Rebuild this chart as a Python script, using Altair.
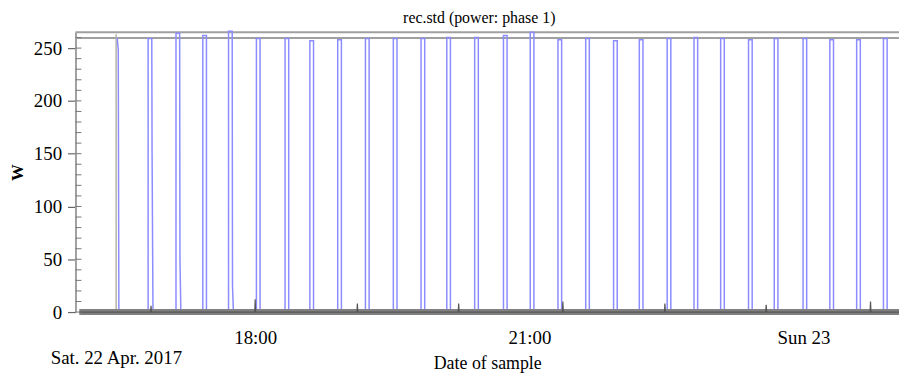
import altair as alt
import pandas as pd

title_text = "rec.std (power: phase 1)"
x_title = "Date of sample"
y_title = "W"
date_label = "Sat. 22 Apr. 2017"
tick_labels = ["18:00", "21:00", "Sun 23"]

# minutes relative to Sat 22 Apr 2017 18:00
domain_min = [-118.0, 422.7]
pulse_mid = [-69.1, -50.8, -33.2, -16.3, 2.0, 20.8, 37.1, 55.4, 73.6, 91.9,
             110.1, 127.0, 145.3, 164.2, 181.8, 200.0, 218.2, 236.5, 253.4,
             271.7, 289.3, 306.8, 325.1, 342.0, 360.9, 378.5, 396.1, 413.7]
pulse_top = [259, 264, 262, 266, 259, 259, 257, 258, 259, 259,
             259, 260, 260, 262, 265, 258, 259, 257, 258,
             259, 260, 259, 258, 259, 259, 258, 258, 259]
pulse_step = [150, 50, 0, 25, 0, 0, 0, 0, 0, 0,
              0, 0, 0, 0, 0, 0, 0, 0, 0,
              0, 0, 0, 0, 0, 0, 0, 0, 0]
pulse_len = 2.4
first_drop = [(-90.6, 260), (-89.9, 248), (-89.5, 0)]

grey_start = -115.5
start_line_min = -91.3
start_line_val = 263
grey_spike_min = [-68.4, 0.0, 67.1, 133.6, 202.0, 269.0, 335.5, 404.0]
grey_spike_val = [6, 12, 8, 8, 10, 8, 7, 10]
ref_level = 259.5
major_ticks = [0, 50, 100, 150, 200, 250]
minor_ticks = list(range(0, 261, 10))

base = pd.Timestamp("2017-04-22 18:00")


def ts(m):
    return (base + pd.Timedelta(minutes=m)).strftime("%Y-%m-%dT%H:%M:%S")


# blue series
blue = []
for m, v in first_drop:
    blue.append((m, v))
for mid, top, stp in zip(pulse_mid, pulse_top, pulse_step):
    s = mid - pulse_len / 2
    e = mid + pulse_len / 2
    blue.append((s, 0))
    blue.append((s, top))
    blue.append((e, top))
    if stp:
        blue.append((e + 0.2, stp))
        blue.append((e + 0.8, 0))
    else:
        blue.append((e, 0))
blue.append((domain_min[1], 0))
blue_df = pd.DataFrame({"t": [ts(m) for m, _ in blue],
                        "v": [v for _, v in blue],
                        "i": range(len(blue))})

# grey series (small spikes)
grey = [(grey_start, 0)]
for m, v in zip(grey_spike_min, grey_spike_val):
    grey += [(m - 0.3, 0), (m, v), (m + 0.3, 0)]
grey.append((domain_min[1], 0))
grey_df = pd.DataFrame({"t": [ts(m) for m, _ in grey],
                        "v": [v for _, v in grey],
                        "i": range(len(grey))})

start_df = pd.DataFrame({"t": [ts(start_line_min)] * 2, "v": [0, start_line_val], "i": [0, 1]})

xscale = alt.Scale(domain=[ts(domain_min[0]), ts(domain_min[1])])
yscale = alt.Scale(domain=[0, 265], nice=False)

FONT = "Liberation Serif"

xaxis = alt.Axis(
    title=x_title,
    values=[alt.DateTime(year=2017, month=4, date=22, hours=18),
            alt.DateTime(year=2017, month=4, date=22, hours=21),
            alt.DateTime(year=2017, month=4, date=23, hours=0)],
    labelExpr=f"hours(datum.value) == 0 ? '{tick_labels[2]}' : (hours(datum.value) == 18 ? '{tick_labels[0]}' : '{tick_labels[1]}')",
    ticks=False, domain=False, grid=False,
    labelFont=FONT, labelFontSize=19, labelColor="black", labelPadding=17,
    labelBaseline="top",
    titleFont=FONT, titleFontSize=18, titleFontWeight="normal", titleColor="black",
    titlePadding=7,
)
yaxis = alt.Axis(
    title=y_title, values=major_ticks, grid=False, domain=True,
    domainColor="#a0a0a0", domainWidth=2,
    tickSize=8, tickColor="#666666", tickWidth=1.2,
    labelFont=FONT, labelFontSize=19, labelColor="black", labelPadding=6,
    titleFont=FONT, titleFontSize=17, titleFontWeight="bold", titleColor="black",
    titlePadding=7,
)

blue_line = alt.Chart(blue_df).mark_line(color="#8c8cff", strokeWidth=1.5).encode(
    x=alt.X("t:T", scale=xscale, axis=xaxis),
    y=alt.Y("v:Q", scale=yscale, axis=yaxis),
    order="i:Q",
)

baseline_df = pd.DataFrame({"t": [ts(grey_start)], "t2": [ts(domain_min[1])], "v": [0]})
baseline = alt.Chart(baseline_df).mark_rule(color="#808080", strokeWidth=6).encode(
    x="t:T", x2="t2:T", y="v:Q")

grey_line = alt.Chart(grey_df).mark_line(color="#555555", strokeWidth=1.2).encode(
    x="t:T", y="v:Q", order="i:Q")

start_line = alt.Chart(start_df).mark_line(color="#b4b4a8", strokeWidth=1.5).encode(
    x="t:T", y="v:Q", order="i:Q")

ref_df = pd.DataFrame({"t": [ts(domain_min[0])], "t2": [ts(domain_min[1])], "v": [ref_level]})
ref_rule = alt.Chart(ref_df).mark_rule(color="#a0a0a0", strokeWidth=2).encode(
    x="t:T", x2="t2:T", y="v:Q")

top_df = pd.DataFrame({"t": [ts(domain_min[0])], "t2": [ts(domain_min[1])], "v": [265]})
top_rule = alt.Chart(top_df).mark_rule(color="#a0a0a0", strokeWidth=2).encode(
    x="t:T", x2="t2:T", y="v:Q")

minor_df = pd.DataFrame({"v": minor_ticks})
minor = alt.Chart(minor_df).mark_rule(color="#777777", strokeWidth=1).encode(
    y="v:Q", x=alt.value(0), x2=alt.value(6))

date_df = pd.DataFrame({"t": [ts(domain_min[0])], "v": [0], "label": [date_label]})
date_text = alt.Chart(date_df).mark_text(
    font=FONT, fontSize=19, align="left", baseline="middle", dx=-25, dy=46, color="black"
).encode(x="t:T", y="v:Q", text="label:N")

chart = alt.layer(
    ref_rule, top_rule, start_line, blue_line, baseline, grey_line, minor, date_text
).properties(
    width=830, height=282,
    title=alt.TitleParams(title_text, font=FONT, fontSize=16, fontWeight="normal",
                          color="black", offset=2, dx=-8),
    autosize=alt.AutoSizeParams(type="none"),
    padding={"left": 68, "top": 23, "right": 0, "bottom": 64},
).configure_view(stroke=None)

chart.save("out.html", embed_options={"renderer": "svg", "actions": False})
